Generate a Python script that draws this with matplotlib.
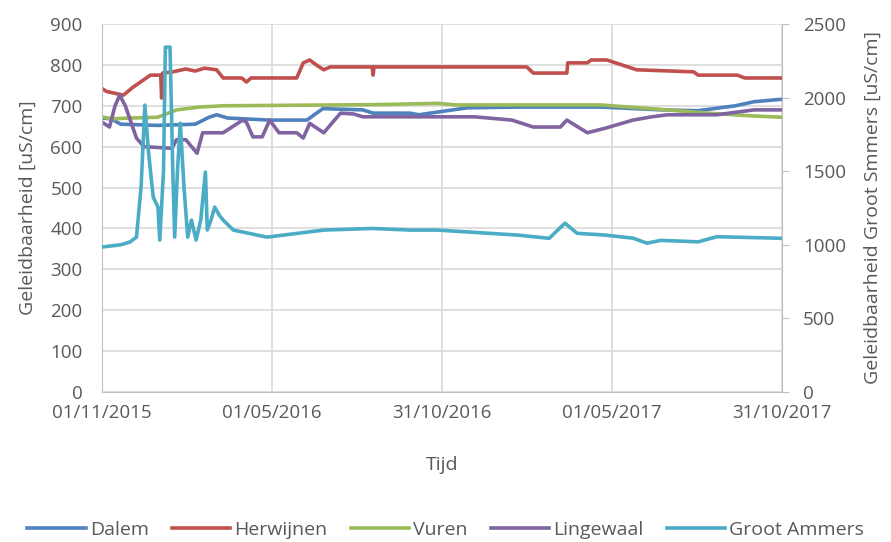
"""Geleidbaarheid meetstations nov 2015 - okt 2017."""
import numpy as np
import pandas as pd
import matplotlib
matplotlib.use("Agg")
import matplotlib.pyplot as plt
import matplotlib.dates as mdates

plt.rcParams["font.family"] = ["Open Sans", "DejaVu Sans"]

START = pd.Timestamp("2015-11-01")
TICK_DATES = ["2015-11-01", "2016-05-01", "2016-10-31", "2017-05-01", "2017-10-31"]

# days since 01/11/2015, values in uS/cm
dalem_days = [0, 10, 20, 60, 100, 115, 123, 135, 180, 220, 237, 280, 291, 331, 340,
              392, 450, 535, 600, 640, 680, 700, 730]
dalem_vals = [670, 668, 655, 652, 655, 672, 678, 670, 665, 665, 693, 690, 682, 682, 678,
              695, 697, 697, 690, 688, 700, 710, 716]

herw_days = [0, 5, 15, 23, 33, 52, 63, 64, 65, 76, 90, 100, 110, 123, 130, 150, 155, 160,
             209, 216, 223, 230, 238, 245, 290, 291, 292, 456, 463, 499, 500, 521, 525,
             542, 574, 635, 640, 682, 690, 730]
herw_vals = [742, 735, 730, 726, 745, 775, 775, 719, 780, 783, 790, 785, 792, 788, 768,
             768, 758, 768, 768, 805, 812, 800, 788, 795, 795, 775, 795, 795, 780, 780,
             805, 805, 812, 812, 788, 783, 775, 775, 768, 768]

vuren_days = [0, 10, 30, 60, 80, 105, 130, 250, 300, 360, 380, 400, 535, 607, 650, 700, 730]
vuren_vals = [673, 668, 670, 672, 690, 697, 700, 702, 703, 706, 702, 702, 702, 690, 682,
              675, 672]

linge_days = [0, 8, 14, 19, 25, 37, 45, 60, 75, 80, 90, 102, 108, 130, 151, 155, 162, 172,
              180, 190, 209, 216, 223, 238, 256, 270, 280, 400, 440, 463, 492, 499, 521,
              540, 570, 590, 607, 660, 700, 730]
linge_vals = [660, 648, 700, 726, 700, 621, 600, 598, 596, 617, 617, 584, 634, 634, 665,
              660, 624, 624, 665, 634, 634, 621, 657, 634, 682, 680, 673, 673, 665, 648,
              648, 665, 634, 645, 665, 673, 678, 678, 690, 690]

ammers_days = [0, 20, 30, 37, 42, 46, 50, 55, 60, 62, 66, 68, 73, 76, 78, 81, 84, 88, 92,
               96, 101, 106, 111, 113, 117, 121, 126, 130, 141, 177, 238, 290, 331, 360,
               446, 480, 497, 510, 540, 570, 585, 600, 640, 660, 730]
ammers_vals = [985, 1000, 1019, 1052, 1400, 1949, 1623, 1324, 1256, 1032, 1500, 2343, 2343,
               1500, 1052, 1500, 1826, 1392, 1052, 1168, 1032, 1168, 1494, 1100, 1168, 1256,
               1200, 1168, 1100, 1052, 1100, 1111, 1100, 1100, 1066, 1044, 1147, 1078,
               1066, 1045, 1011, 1030, 1020, 1055, 1044]

TXT = "#595959"
GRID = "#D9D9D9"
AXC = "#BFBFBF"


def to_dates(days):
    return START + pd.to_timedelta(np.array(days), unit="D")


fig = plt.figure(figsize=(8.91, 5.42), dpi=100)
ax = fig.add_axes([0.1145, 0.2768, 0.7632, 0.6789])
ax2 = ax.twinx()

lw = 2.6
l1, = ax.plot(to_dates(dalem_days), dalem_vals, color="#4F81BD", lw=lw, label="Dalem")
l2, = ax.plot(to_dates(herw_days), herw_vals, color="#C0504D", lw=lw, label="Herwijnen")
l3, = ax.plot(to_dates(vuren_days), vuren_vals, color="#9BBB59", lw=lw, label="Vuren")
l4, = ax.plot(to_dates(linge_days), linge_vals, color="#8064A2", lw=lw, label="Lingewaal")
l5, = ax2.plot(to_dates(ammers_days), ammers_vals, color="#4BACC6", lw=lw,
               label="Groot Ammers")

ax.set_xlim(pd.Timestamp("2015-11-01"), pd.Timestamp("2017-10-31"))
ax.set_ylim(0, 900)
ax2.set_ylim(0, 2500)
ax.set_yticks(range(0, 901, 100))
ax2.set_yticks(range(0, 2501, 500))
ax.set_xticks([pd.Timestamp(d) for d in TICK_DATES])
ax.xaxis.set_major_formatter(mdates.DateFormatter("%d/%m/%Y"))

ax.grid(True, color=GRID, lw=1.2)
ax.set_axisbelow(True)

for a in (ax, ax2):
    for sp in a.spines.values():
        sp.set_visible(False)
    a.tick_params(colors=TXT, labelsize=13.5)
ax.spines["left"].set_visible(True)
ax.spines["left"].set_color(AXC)
ax.spines["bottom"].set_visible(True)
ax.spines["bottom"].set_color(AXC)
ax2.spines["right"].set_visible(True)
ax2.spines["right"].set_color(AXC)
ax.tick_params(axis="y", length=0, pad=14)
ax.tick_params(axis="x", length=0, pad=9)
ax2.tick_params(axis="y", length=5, color=AXC, pad=10)

ax.set_xlabel("Tijd", color=TXT, fontsize=14, labelpad=24)
ax.set_ylabel("Geleidbaarheid [uS/cm]", color=TXT, fontsize=14, labelpad=10)
ax2.set_ylabel("Geleidbaarheid Groot Smmers [uS/cm]", color=TXT, fontsize=14, labelpad=13)

fig.legend(handles=[l1, l2, l3, l4, l5], loc="center", bbox_to_anchor=(0.5, 0.022),
           ncol=5, frameon=False, fontsize=14, labelcolor=TXT, handlelength=3.0,
           handletextpad=0.2, columnspacing=1.2)

fig.savefig("out.png", dpi=100)
